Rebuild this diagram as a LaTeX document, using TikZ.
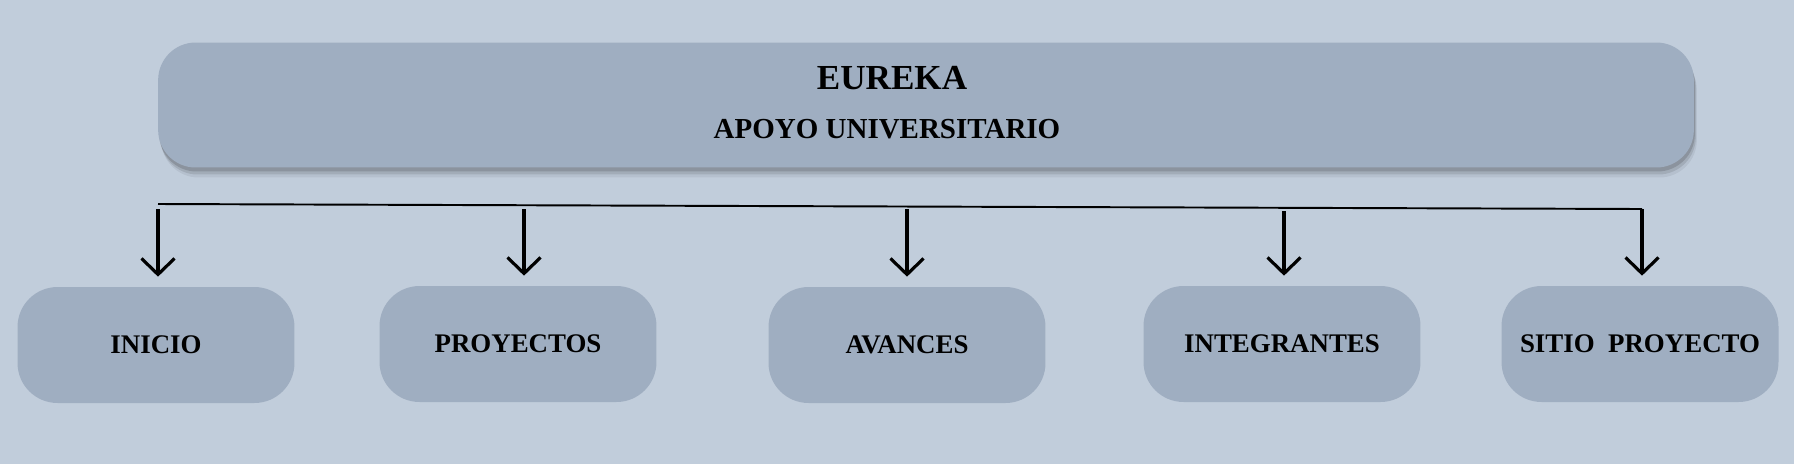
\documentclass[tikz,border=0pt]{standalone}
\usepackage{fontspec}
\setmainfont{Liberation Serif}
\usetikzlibrary{positioning, shadows, arrows.meta}
\definecolor{PageBlue}{RGB}{193, 205, 219}
\definecolor{BoxBlue}{RGB}{159, 174, 193}

\begin{document}
\begin{tikzpicture}[
    x=0.02cm, y=-0.02cm,
    box/.style={rectangle, rounded corners=0.8cm, fill=BoxBlue, font=\bfseries\fontsize{15.3}{18}\selectfont, minimum width=5.54cm, minimum height=2.32cm, inner sep=0pt},
    link/.style={-{Straight Barb[length=0.32cm, width=0.66cm]}, line width=1.8pt, shorten >=0.2cm}
  ]
  % page
  \fill[PageBlue] (0,0) rectangle (1794,464);

  % header
  \node[box, minimum width=30.72cm, minimum height=2.5cm, rounded corners=0.75cm,
        drop shadow={shadow xshift=0.06cm, shadow yshift=-0.2cm, opacity=0.06, fill=black},
        drop shadow={shadow xshift=0.04cm, shadow yshift=-0.14cm, opacity=0.1, fill=black},
        drop shadow={shadow xshift=0.02cm, shadow yshift=-0.08cm, opacity=0.14, fill=black}] (head) at (926,105) {};
  \node[font=\bfseries\fontsize{20}{24}\selectfont] (title) at (892,78) {EUREKA};
  \node[font=\bfseries\fontsize{16.5}{20}\selectfont] (subtitle) at (887,129) {APOYO UNIVERSITARIO};

  % sections
  \node[box] (inicio) at (156,345) {INICIO};
  \node[box] (proyectos) at (518,344) {PROYECTOS};
  \node[box] (avances) at (907,345) {AVANCES};
  \node[box] (integrantes) at (1282,344) {INTEGRANTES};
  \node[box] (sitio) at (1640,344) {SITIO\ \ PROYECTO};

  % bus
  \coordinate (busL) at (158,204);
  \coordinate (busR) at (1642,209);
  \draw[line width=1.1pt] (busL) -- (busR);

  \coordinate (a1) at (158,209);
  \coordinate (a2) at (524,209);
  \coordinate (a3) at (907,209);
  \coordinate (a4) at (1284,211);

  \draw[link] (a1) -- (a1 |- inicio.north);
  \draw[link] (a2) -- (a2 |- proyectos.north);
  \draw[link] (a3) -- (a3 |- avances.north);
  \draw[link] (a4) -- (a4 |- integrantes.north);
  \draw[link] (busR) -- (busR |- sitio.north);
\end{tikzpicture}
\end{document}
